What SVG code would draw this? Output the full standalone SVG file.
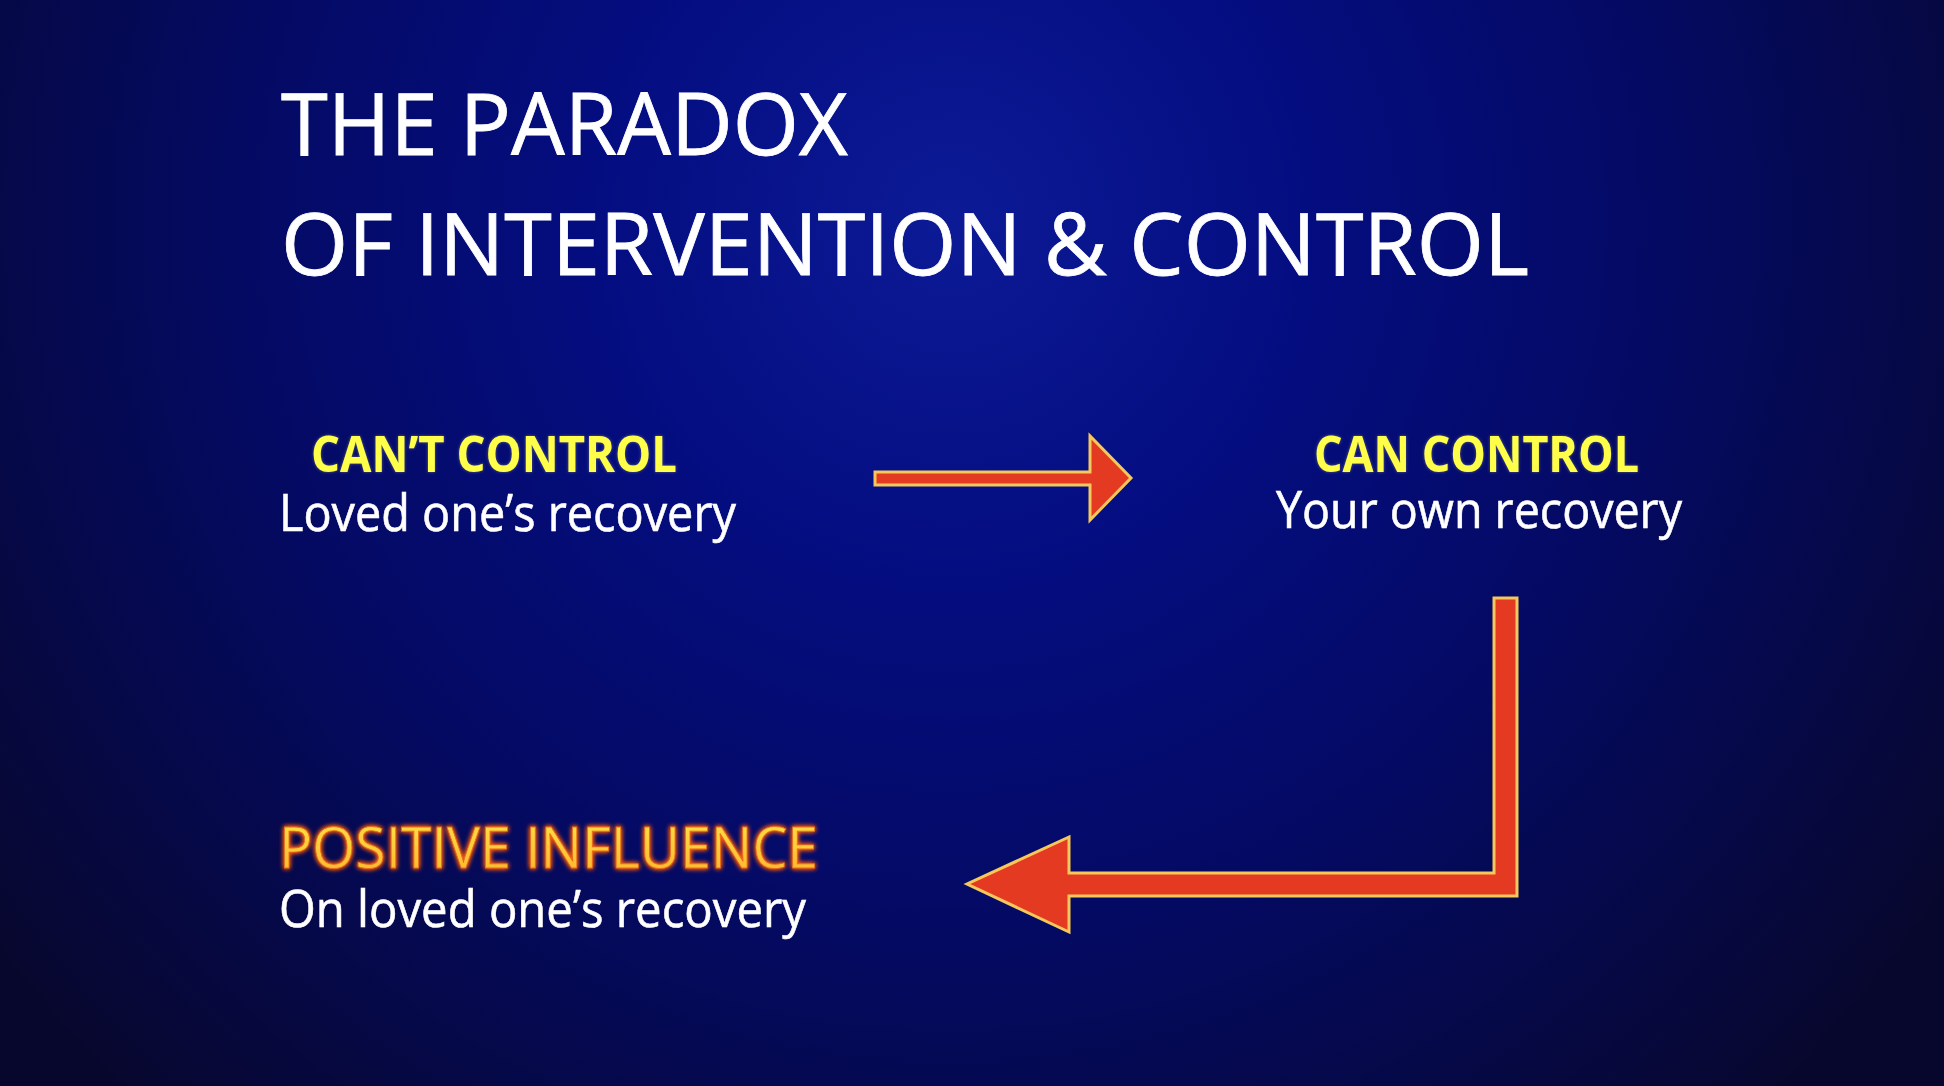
<svg xmlns="http://www.w3.org/2000/svg" width="1944" height="1086" viewBox="0 0 1944 1086">
<defs>
<radialGradient id="bg" cx="950" cy="220" r="1200" gradientUnits="userSpaceOnUse">
<stop offset="0" stop-color="#0c1a96"/>
<stop offset="0.3" stop-color="#040d80"/>
<stop offset="0.6" stop-color="#040a62"/>
<stop offset="1" stop-color="#07072e"/>
</radialGradient>
<linearGradient id="pi" x1="0" y1="0" x2="0" y2="1">
<stop offset="0" stop-color="#ffe94a"/>
<stop offset="1" stop-color="#ffb02a"/>
</linearGradient>
<filter id="glow" x="-10%" y="-30%" width="120%" height="160%">
<feGaussianBlur in="SourceAlpha" stdDeviation="2.5" result="b"/>
<feFlood flood-color="#ff5a10" result="c"/>
<feComposite in="c" in2="b" operator="in" result="g"/>
<feMerge><feMergeNode in="g"/><feMergeNode in="g"/><feMergeNode in="SourceGraphic"/></feMerge>
</filter>
<filter id="soft" x="-10%" y="-30%" width="120%" height="160%">
<feGaussianBlur in="SourceAlpha" stdDeviation="1.5" result="b"/>
<feFlood flood-color="#ffff80" flood-opacity="0.35" result="c"/>
<feComposite in="c" in2="b" operator="in" result="g"/>
<feMerge><feMergeNode in="g"/><feMergeNode in="SourceGraphic"/></feMerge>
</filter>
</defs>
<style>
text{font-family:"Open Sans","Noto Sans","Liberation Sans",sans-serif}
.title{fill:#ffffff;font-size:86px;stroke:#ffffff;stroke-width:0.8}
.head{fill:#ffff4a;font-size:50px;font-weight:bold}
.sub{fill:#ffffff;font-size:52px;stroke:#ffffff;stroke-width:0.6}
.pos{fill:url(#pi);font-size:57px;stroke:#e86a1a;stroke-width:0.8}
.arrow{fill:#e53a22;stroke:#f6c75a;stroke-width:3;stroke-linejoin:miter}
</style>
<rect x="0" y="0" width="1944" height="1086" fill="url(#bg)"/>
<g id="title">
<text class="title" x="281" y="155" textLength="567" lengthAdjust="spacingAndGlyphs">THE PARADOX</text>
<text class="title" x="281" y="275" textLength="1248" lengthAdjust="spacingAndGlyphs">OF INTERVENTION &amp; CONTROL</text>
</g>
<g id="node-cant-control">
<text class="head" x="311" y="472" textLength="366" lengthAdjust="spacingAndGlyphs" filter="url(#soft)">CAN’T CONTROL</text>
<text class="sub" x="279" y="531" textLength="457" lengthAdjust="spacingAndGlyphs">Loved one’s recovery</text>
</g>
<g id="node-can-control">
<text class="head" x="1314" y="472" textLength="325" lengthAdjust="spacingAndGlyphs" filter="url(#soft)">CAN CONTROL</text>
<text class="sub" x="1276" y="528" textLength="406" lengthAdjust="spacingAndGlyphs">Your own recovery</text>
</g>
<g id="node-positive-influence">
<text class="pos" x="279" y="868" textLength="539" lengthAdjust="spacingAndGlyphs" filter="url(#glow)">POSITIVE INFLUENCE</text>
<text class="sub" x="279" y="927" textLength="527" lengthAdjust="spacingAndGlyphs">On loved one’s recovery</text>
</g>
<g id="connectors">
<path class="arrow" d="M875,472 L1090,472 L1090,436 L1131,478 L1090,520 L1090,485 L875,485 Z"/>
<path class="arrow" d="M1494,598 L1517,598 L1517,896 L1069,896 L1069,932 L967,884 L1069,837 L1069,873 L1494,873 Z"/>
</g>
</svg>
